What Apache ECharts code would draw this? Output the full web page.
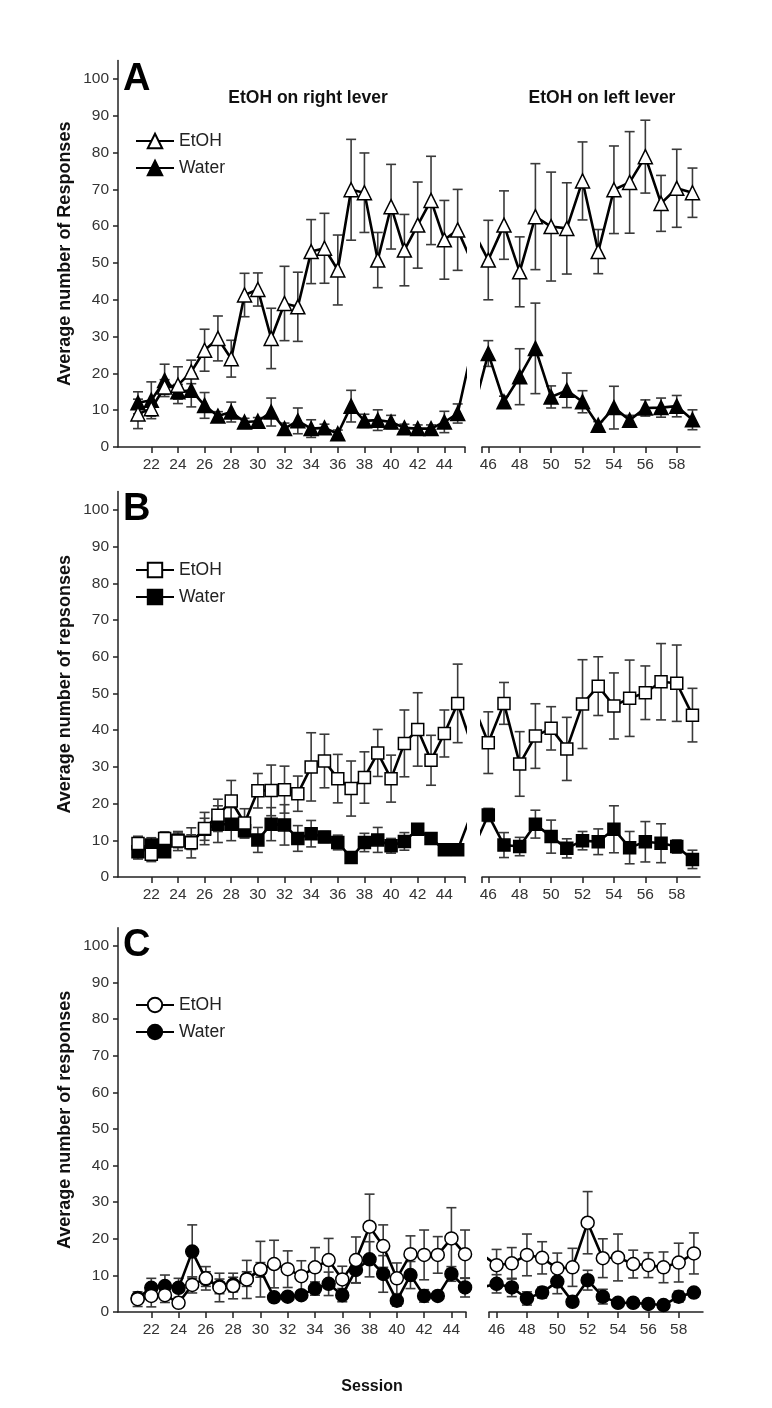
<!DOCTYPE html>
<html>
<head>
<meta charset="utf-8">
<script src="https://cdn.jsdelivr.net/npm/echarts@6/dist/echarts.min.js"></script>
<style>
  html, body { margin: 0; padding: 0; background: #fff; }
  #main { width: 772px; height: 1408px; }
</style>
</head>
<body>
<div id="main"></div>
<script>
// sessions 21-45: EtOH on right lever, 46-59: EtOH on left lever
const sessions = [21, 22, 23, 24, 25, 26, 27, 28, 29, 30, 31, 32, 33, 34, 35, 36, 37, 38, 39, 40,
    41, 42, 43, 44, 45, 46, 47, 48, 49, 50, 51, 52, 53, 54, 55, 56, 57, 58, 59];
const xTicksLeft = [22, 24, 26, 28, 30, 32, 34, 36, 38, 40, 42, 44];
const xTicksRight = [46, 48, 50, 52, 54, 56, 58];
const yTicks = [0, 10, 20, 30, 40, 50, 60, 70, 80, 90, 100];

// panel A (triangles)
const aEtoh = [9, 10.4, 16.3, 16.8, 20.4, 26.3, 29.5, 24, 41.3, 42.8, 29.5, 39, 38.1, 53.1, 54, 48.1, 69.9, 69.1, 50.8, 65.3,
    53.5, 60.3, 67, 56.3, 59, 50.8, 60.3, 47.6, 62.6, 59.9, 59.4, 72.3, 53.1, 69.9, 71.9, 78.9, 66.2, 70.3, 69.1];
const aEtohErr = [4, 2, 2, 5, 3.2, 5.7, 6.1, 5, 5.9, 4.5, 8.2, 10.1, 9.4, 8.7, 9.5, 9.5, 13.7, 10.8, 7.5, 11.5,
    9.7, 11.7, 12, 10.7, 11, 10.8, 9.3, 9.5, 14.4, 14.8, 12.4, 10.6, 6, 11.9, 13.8, 9.9, 7.6, 10.6, 6.7];
const aWater = [12, 12.7, 18.1, 15, 15.4, 11.3, 8.4, 9.5, 6.8, 7, 9.5, 5, 7.1, 5, 5.2, 3.6, 11.1, 7.1, 7.3, 6.8,
    5.2, 5, 5, 6.8, 9.1, 25.4, 12.3, 19.1, 26.8, 13.6, 15.4, 12.3, 5.9, 10.7, 7.3, 10.6, 10.7, 11.1, 7.4];
const aWaterErr = [3, 5, 4.4, 2, 4.5, 3.5, 1.2, 2.7, 1, 1, 3.8, 1.5, 3.5, 2.4, 1, 1, 4.3, 1.8, 2.8, 1.8,
    1, 1, 1, 2.9, 2.6, 3.5, 1.5, 7.6, 12.3, 3, 4.7, 3, 1, 5.8, 1.3, 2.2, 2.6, 2.9, 2.7];

// panel B (squares)
const bEtoh = [9.1, 6.2, 10.5, 9.8, 9.3, 13.2, 16.8, 20.7, 14.7, 23.5, 23.6, 23.8, 22.7, 30, 31.6, 26.8, 24.1, 27.1, 33.8, 26.8,
    36.4, 40.2, 31.8, 39.1, 47.3, 36.6, 47.3, 30.8, 38.4, 40.5, 34.9, 47.1, 52, 46.6, 48.7, 50.2, 53.2, 52.8, 44.1];
const bEtohErr = [2, 2, 1.8, 2.6, 4.1, 4.4, 4.4, 5.6, 3.9, 4.7, 6.9, 6.4, 4.8, 9.3, 7.3, 6.6, 7.5, 7, 6.4, 6.4,
    9.1, 10, 6.8, 6.4, 10.7, 8.4, 5.7, 8.8, 8.8, 5.9, 8.6, 12.1, 8, 9, 10.4, 7.3, 10.4, 10.4, 7.3];
const bWater = [6.9, 8.7, 6.9, 10, 9.5, 13, 14.4, 14.4, 12.6, 10.1, 14.4, 14.2, 10.5, 11.8, 10.9, 9.4, 5.3, 9.4, 10.1, 8.5,
    9.7, 13, 10.5, 7.4, 7.4, 16.9, 8.7, 8.3, 14.4, 11, 7.8, 9.9, 9.6, 13, 8, 9.6, 9.2, 8.3, 4.8];
const bWaterErr = [2, 2, 1.5, 2, 2, 3, 5, 4.5, 2, 3.4, 4.5, 5.5, 3.5, 3.6, 1.5, 2, 1, 2.5, 3.4, 2,
    2.4, 1, 1, 1, 1, 1.8, 3.4, 2.5, 3.8, 4.5, 2.6, 2.5, 3.5, 6.4, 4.4, 5.5, 5.3, 1.8, 2.5];

// panel C (circles)
const cEtoh = [3.5, 4.4, 4.6, 2.5, 7.4, 9.2, 6.7, 7.1, 8.9, 11.7, 13.1, 11.7, 9.8, 12.2, 14.2, 8.9, 14.2, 23.3, 18, 9.2,
    15.8, 15.6, 15.6, 20.1, 15.8, 12.8, 13.3, 15.6, 14.8, 11.9, 12.2, 24.4, 14.7, 14.9, 13.1, 12.8, 12.2, 13.5, 16];
const cEtohErr = [2, 3, 2, 1, 2.2, 3.2, 3.9, 3.5, 5.2, 7.6, 6.5, 5, 4.2, 5.4, 5.9, 3.6, 6.3, 8.9, 5.8, 4.2,
    5, 6.8, 5, 8.4, 6.6, 4.3, 4.3, 5.7, 4.4, 4.2, 5.2, 8.5, 5.3, 6.4, 3.8, 3.4, 4.2, 5.3, 5.6];
const cWater = [3.8, 6.6, 7.1, 6.6, 16.5, 9, 7, 7.5, 9, 11.5, 4, 4.2, 4.6, 6.4, 7.7, 4.6, 11.5, 14.4, 10.4, 3.1,
    10.1, 4.4, 4.4, 10.4, 6.7, 7.7, 6.7, 3.7, 5.3, 8.3, 2.8, 8.7, 4.2, 2.5, 2.5, 2.2, 1.9, 4.2, 5.3];
const cWaterErr = [1, 2.6, 3, 2.6, 7.3, 2, 2, 2, 2, 2, 1, 1, 1, 1.8, 3.2, 1.8, 3.5, 4.8, 5, 1.5,
    3.7, 1.7, 1, 2, 2.6, 2.5, 2.5, 1.8, 1.5, 3.3, 1, 2.7, 2, 1, 1.2, 1, 1, 1.5, 1];

const FONT = '"Liberation Sans", Arial, sans-serif';

const panels = [
    {key: 'A', yName: 'Average number of Responses', symbol: 'triangle', size: 14,
        etoh: aEtoh, etohErr: aEtohErr, water: aWater, waterErr: aWaterErr},
    {key: 'B', yName: 'Average number of repsonses', symbol: 'rect', size: 12,
        etoh: bEtoh, etohErr: bEtohErr, water: bWater, waterErr: bWaterErr},
    {key: 'C', yName: 'Average number of responses', symbol: 'circle', size: 13,
        etoh: cEtoh, etohErr: cEtohErr, water: cWater, waterErr: cWaterErr}
];

// two grids per panel: left block and right block
const grids = [
    {left: 118, top: 60.6, width: 347, height: 386.4},
    {left: 482, top: 60.6, width: 218, height: 386.4},
    {left: 118, top: 491.6, width: 347, height: 385.4},
    {left: 482, top: 491.6, width: 218, height: 385.4},
    {left: 118, top: 927.7, width: 348, height: 384.3},
    {left: 489, top: 927.7, width: 214, height: 384.3}
];
const xRanges = [[19.5, 45.55], [45.6, 59.48], [19.5, 45.55], [45.6, 59.48], [19.56, 45.07], [45.5, 59.6]];

function pairs(vals) {
    return sessions.map((s, i) => [s, vals[i]]);
}

function errRows(vals, errs, range) {
    let rows = []
    sessions.forEach((s, i) => {
        if (s >= range[0] && s <= range[1]) {
            rows.push([s, Math.max(0, vals[i] - errs[i]), vals[i] + errs[i]])
        }
    })
    return rows
}

function errorBarItem(params, api) {
    const x = api.value(0);
    const lo = api.coord([x, api.value(1)]);
    const hi = api.coord([x, api.value(2)]);
    const w = 5;
    const style = {stroke: '#3a3a3a', lineWidth: 1.6};
    return {
        type: 'group',
        children: [
            {type: 'line', shape: {x1: lo[0], y1: lo[1], x2: hi[0], y2: hi[1]}, style: style},
            {type: 'line', shape: {x1: hi[0] - w, y1: hi[1], x2: hi[0] + w, y2: hi[1]}, style: style},
            {type: 'line', shape: {x1: lo[0] - w, y1: lo[1], x2: lo[0] + w, y2: lo[1]}, style: style}
        ]
    };
}

let xAxes = [], yAxes = [], series = [], legends = [], graphics = [];

const legendTops = [127, 556, 991];
const letterTops = [80, 510, 946];

panels.forEach((p, pi) => {
    [0, 1].forEach(side => {
        const gi = pi * 2 + side;
        const range = xRanges[gi];
        const tickVals = side == 0 ? xTicksLeft.concat([range[1]]) : [range[0]].concat(xTicksRight);
        xAxes.push({
            type: 'value', gridIndex: gi, min: range[0], max: range[1],
            axisLine: {show: true, onZero: false, lineStyle: {color: '#222', width: 1.5}},
            axisTick: {show: true, length: 6, customValues: tickVals, lineStyle: {color: '#222', width: 1.5}},
            axisLabel: {customValues: side == 0 ? xTicksLeft : xTicksRight, fontSize: 15.5, color: '#333',
                fontFamily: FONT, margin: 10},
            splitLine: {show: false}
        });
        yAxes.push({
            type: 'value', gridIndex: gi, min: 0, max: 105, show: side == 0,
            name: side == 0 ? p.yName : '', nameLocation: 'middle', nameGap: 44,
            nameTextStyle: {fontSize: 18, fontWeight: 'bold', color: '#111', fontFamily: FONT},
            axisLine: {show: true, lineStyle: {color: '#222', width: 1.5}},
            axisTick: {show: true, length: 5, customValues: yTicks, lineStyle: {color: '#222', width: 1.5}},
            axisLabel: {customValues: yTicks, fontSize: 15.5, color: '#333', fontFamily: FONT, margin: 9},
            splitLine: {show: false}
        });

        // error bars under the lines
        series.push({
            type: 'custom', xAxisIndex: gi, yAxisIndex: gi, z: 1, silent: true,
            renderItem: errorBarItem, encode: {x: 0, y: [1, 2]},
            data: errRows(p.water, p.waterErr, range)
        });
        series.push({
            type: 'custom', xAxisIndex: gi, yAxisIndex: gi, z: 1, silent: true,
            renderItem: errorBarItem, encode: {x: 0, y: [1, 2]},
            data: errRows(p.etoh, p.etohErr, range)
        });
        series.push({
            name: 'Water ' + p.key, type: 'line', xAxisIndex: gi, yAxisIndex: gi, z: 3,
            data: pairs(p.water), clip: true, symbol: p.symbol, symbolSize: p.size,
            showAllSymbol: true, animation: false,
            lineStyle: {color: '#000', width: 2.6},
            itemStyle: {color: '#000', borderColor: '#000', borderWidth: 1.5}
        });
        series.push({
            name: 'EtOH ' + p.key, type: 'line', xAxisIndex: gi, yAxisIndex: gi, z: 4,
            data: pairs(p.etoh), clip: true, symbol: p.symbol, symbolSize: p.size,
            showAllSymbol: true, animation: false,
            lineStyle: {color: '#000', width: 2.6},
            itemStyle: {color: '#fff', borderColor: '#000', borderWidth: 1.5}
        });
    });

    legends.push({
        data: ['EtOH ' + p.key, 'Water ' + p.key],
        orient: 'vertical', left: 130, top: legendTops[pi],
        itemWidth: 38, itemHeight: 18, itemGap: 9, selectedMode: false,
        formatter: name => name.split(' ')[0],
        textStyle: {fontSize: 17.5, color: '#222', fontFamily: FONT}
    });

    graphics.push({
        type: 'text', x: 123, y: letterTops[pi],
        style: {text: p.key, font: 'bold 38px ' + FONT, fill: '#000',
            textVerticalAlign: 'middle', verticalAlign: 'middle'}
    });
});

graphics.push({
    type: 'text', x: 308, y: 98,
    style: {text: 'EtOH on right lever', font: 'bold 17.5px ' + FONT, fill: '#111',
        textAlign: 'center', align: 'center', textVerticalAlign: 'middle', verticalAlign: 'middle'}
});
graphics.push({
    type: 'text', x: 602, y: 98,
    style: {text: 'EtOH on left lever', font: 'bold 17.5px ' + FONT, fill: '#111',
        textAlign: 'center', align: 'center', textVerticalAlign: 'middle', verticalAlign: 'middle'}
});
graphics.push({
    type: 'text', x: 372, y: 1387,
    style: {text: 'Session', font: 'bold 16px ' + FONT, fill: '#111',
        textAlign: 'center', align: 'center', textVerticalAlign: 'middle', verticalAlign: 'middle'}
});

var chartDom = document.getElementById('main');
var myChart = echarts.init(chartDom);

var option = {
    backgroundColor: '#fff',
    animation: false,
    grid: grids,
    xAxis: xAxes,
    yAxis: yAxes,
    legend: legends,
    graphic: graphics,
    series: series
};
myChart.setOption(option);
</script>
</body>
</html>
